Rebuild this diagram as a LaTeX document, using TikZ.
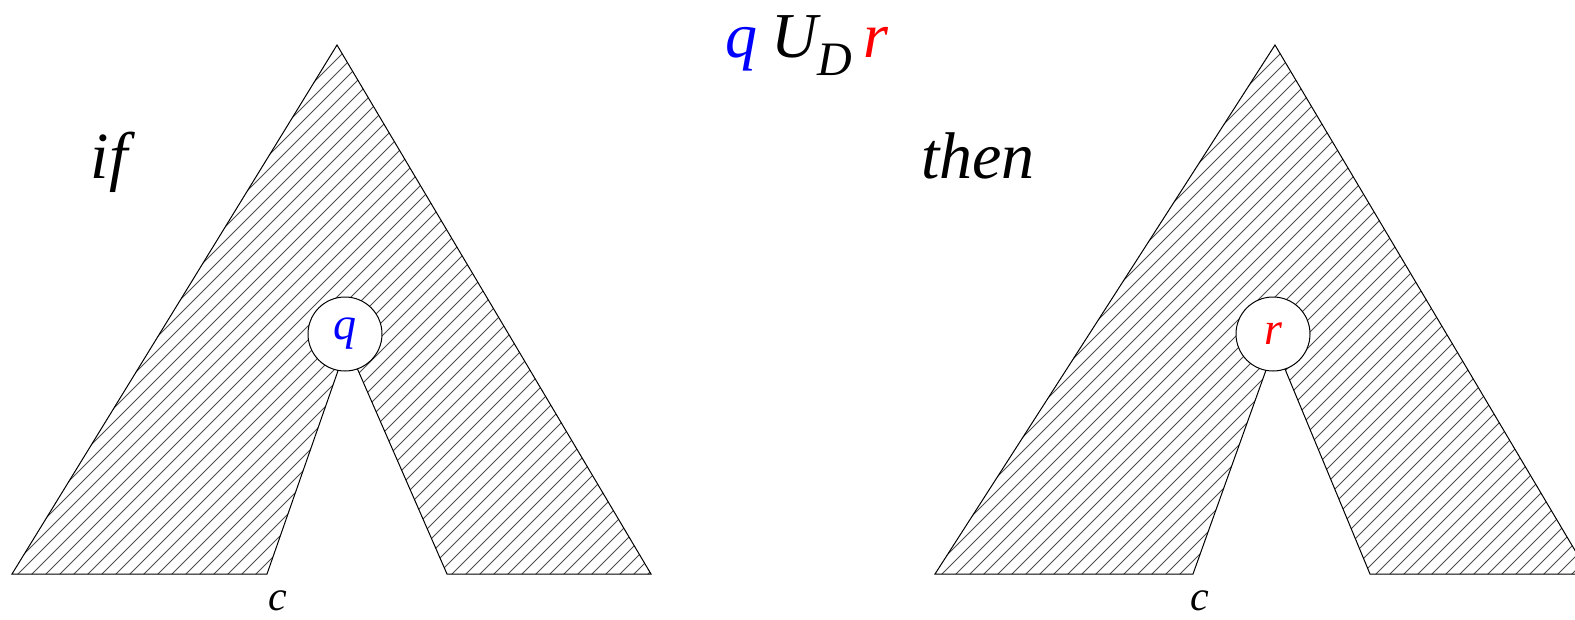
\documentclass[tikz,border=0pt]{standalone}
\usepackage{fontspec}
\setmainfont{Liberation Serif}
\begin{document}
\begin{tikzpicture}[x=1pt,y=-1pt,
 outline/.style={draw=black,line width=1pt,line join=miter},
 hatch/.style={draw=black!70,line width=0.9pt},
 nodecirc/.style={circle,draw=black,line width=1pt,fill=white,minimum size=74pt,inner sep=0pt,font=\fontsize{46}{46}\selectfont\itshape},
 bigtxt/.style={font=\fontsize{66}{66}\selectfont\itshape,inner sep=0pt,anchor=base},
 smalltxt/.style={font=\fontsize{42}{42}\selectfont\itshape,inner sep=0pt,anchor=base},
]
\useasboundingbox (0,0) rectangle (1575,619);
\clip (0,0) rectangle (1575,619);
% left tree
\coordinate (LA) at (337,45);
\coordinate (LBL) at (12,574);
\coordinate (LBR) at (651,574);
\coordinate (LLF) at (267,574);
\coordinate (LRF) at (447,574);
\coordinate (LIN) at (347,345);
% right tree
\coordinate (RA) at (1275,45);
\coordinate (RBL) at (935,574);
\coordinate (RBR) at (1589,574);
\coordinate (RLF) at (1193,574);
\coordinate (RRF) at (1370,574);
\coordinate (RIN) at (1275,345);
\begin{scope}
 \clip (LA) -- (LBR) -- (LRF) -- (LIN) -- (LLF) -- (LBL) -- cycle;
 \foreach \i in {-50,...,60} \draw[hatch] (\i*14,620) -- ++(620,-620);
\end{scope}
\begin{scope}
 \clip (RA) -- (RBR) -- (RRF) -- (RIN) -- (RLF) -- (RBL) -- cycle;
 \foreach \i in {20,...,130} \draw[hatch] (\i*14,620) -- ++(620,-620);
\end{scope}
\draw[outline] (LA) -- (LBR) -- (LRF) -- (LIN) -- (LLF) -- (LBL) -- cycle;
\draw[outline] (RA) -- (RBR) -- (RRF) -- (RIN) -- (RLF) -- (RBL) -- cycle;
\node[nodecirc,text=blue] (qc) at (345,334) {q};
\node[nodecirc,text=red] (rc) at (1273,334) {r};
\node[bigtxt] (if) at (109,178) {if};
\node[bigtxt] (then) at (978,178) {then};
\node[smalltxt] (c1) at (278,610) {c};
\node[smalltxt] (c2) at (1200,610) {c};
\node[font=\fontsize{64}{64}\selectfont\itshape,inner sep=0pt,anchor=base] (title) at (807,57)
 {\textcolor{blue}{q}\hspace{14pt}U\raisebox{-18pt}{\fontsize{48}{48}\selectfont D}\hspace{12pt}\textcolor{red}{r}};
\end{tikzpicture}
\end{document}
